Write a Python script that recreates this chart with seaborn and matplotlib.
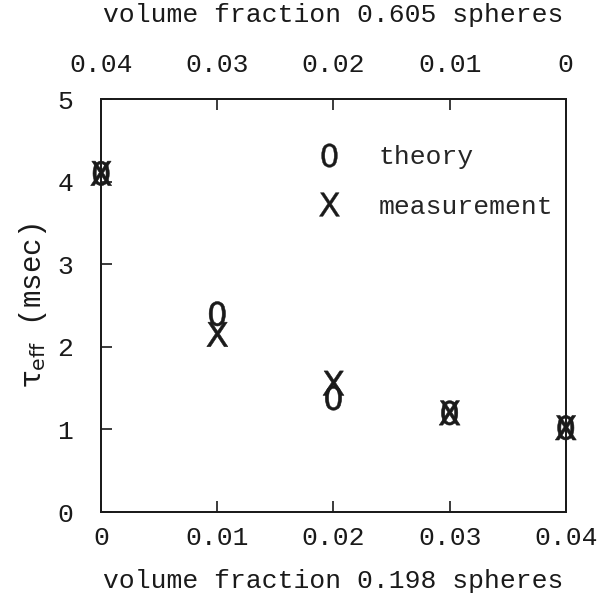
import matplotlib
matplotlib.use("Agg")
import matplotlib.pyplot as plt
import seaborn as sns
import pandas as pd
from matplotlib.lines import Line2D

# Data
volume_fraction = [0.0, 0.01, 0.02, 0.03, 0.04]
theory = [4.1, 2.4, 1.38, 1.2, 1.02]
measurement = [4.1, 2.15, 1.56, 1.2, 1.02]
bottom_ticks = [0, 0.01, 0.02, 0.03, 0.04]
bottom_labels = ["0", "0.01", "0.02", "0.03", "0.04"]
top_labels = ["0.04", "0.03", "0.02", "0.01", "0"]
y_ticks = [0, 1, 2, 3, 4, 5]

sns.set_theme(style="ticks")
FONT = 'Liberation Mono'
plt.rcParams['font.family'] = [FONT, 'DejaVu Sans Mono']
plt.rcParams['mathtext.fontset'] = 'custom'
plt.rcParams['mathtext.rm'] = 'DejaVu Sans'
plt.rcParams['mathtext.it'] = 'DejaVu Sans'
plt.rcParams['mathtext.bf'] = 'DejaVu Sans'

df = pd.DataFrame({
    "x": volume_fraction * 2,
    "y": theory + measurement,
    "series": ["theory"] * len(theory) + ["measurement"] * len(measurement),
})

fig = plt.figure(figsize=(6.13, 6.02), dpi=100)
ax = fig.add_axes([0.165, 0.1495, 0.758, 0.686])

fs = 19
ink = "#1a1a1a"
sns.scatterplot(data=df, x="x", y="y", style="series",
                markers={"theory": "$0$", "measurement": "$X$"},
                color=ink, s=310, linewidth=0.4, edgecolor=ink,
                legend=False, ax=ax, clip_on=False, zorder=5)

ax.set_xlim(0, 0.04)
ax.set_ylim(0, 5)
ax.set_xticks(bottom_ticks)
ax.set_xticklabels(bottom_labels, fontsize=fs, color=ink)
ax.set_yticks(y_ticks)
ax.set_yticklabels([str(v) for v in y_ticks], fontsize=fs, color=ink)
ax.tick_params(direction="in", length=8, width=1.2, pad=10, colors=ink)
ax.tick_params(axis="y", pad=20)
for sp in ax.spines.values():
    sp.set_linewidth(1.3)
    sp.set_color(ink)

ax.set_xlabel("volume fraction 0.198 spheres", fontsize=fs, labelpad=14, color=ink)
ax.set_ylabel(r"$\tau_{eff}$ (msec)", fontsize=fs + 2, labelpad=6, color=ink)

top = ax.twiny()
top.set_xlim(ax.get_xlim())
top.set_xticks(bottom_ticks)
top.set_xticklabels(top_labels, fontsize=fs, color=ink)
top.tick_params(direction="in", length=8, width=1.2, pad=16, colors=ink)
top.set_xlabel("volume fraction 0.605 spheres", fontsize=fs, labelpad=22, color=ink)
for sp in top.spines.values():
    sp.set_linewidth(1.3)
    sp.set_color(ink)

handles = [
    Line2D([], [], linestyle="none", marker="$0$", color=ink, markersize=17, markeredgewidth=0.3),
    Line2D([], [], linestyle="none", marker="$X$", color=ink, markersize=17, markeredgewidth=0.3),
]
ax.legend(handles, ["theory", "measurement"], loc="upper left",
          bbox_to_anchor=(0.41, 0.945), frameon=False, fontsize=fs,
          handlelength=1.0, handletextpad=1.4, labelspacing=0.95)

fig.savefig("out.png", dpi=100)
